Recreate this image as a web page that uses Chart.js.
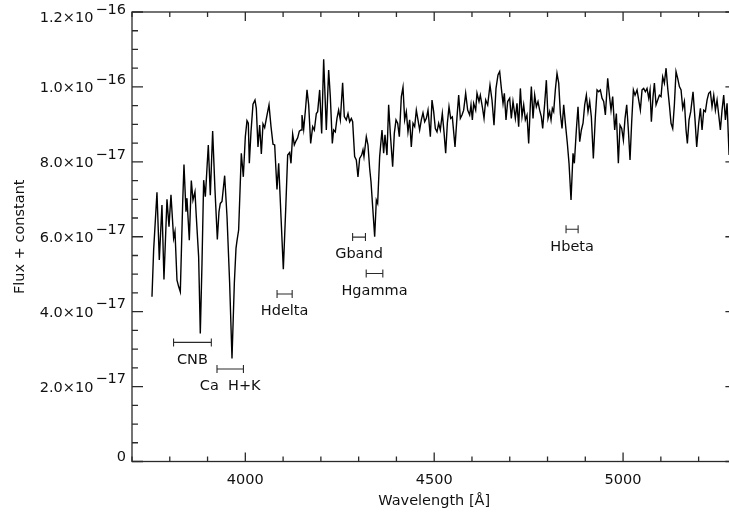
<!DOCTYPE html>
<html>
<head>
<meta charset="utf-8">
<script src="https://cdn.jsdelivr.net/npm/chart.js@4.4.1/dist/chart.umd.min.js"></script>
<style>
  html, body { margin: 0; padding: 0; overflow: hidden; background: #ffffff; width: 729px; height: 514px; }
  #wrap { position: relative; width: 729px; height: 514px; overflow: hidden; }
  #c { display: block; }
</style>
</head>
<body>
<div id="wrap"><canvas id="c" width="737" height="514" style="width:737px;height:514px"></canvas></div>
<script>
// ---- data (flux in units of 1e-18) ----
const wavelength = [
  3752.9, 3757.3, 3766.1, 3772.3, 3779.3, 3784.6, 3792.6, 3797.9, 3803.2, 3810.2,
  3813.8, 3819.1, 3823.5, 3827.9, 3834.1, 3837.6, 3842.9, 3845.5, 3851.7, 3857.0,
  3861.4, 3866.7, 3870.2, 3876.4, 3880.8, 3885.3, 3889.7, 3894.1, 3896.7, 3902.0,
  3907.3, 3913.5, 3919.7, 3925.9, 3930.3, 3933.8, 3938.2, 3945.3, 3951.5, 3958.5,
  3964.7, 3970.9, 3975.3, 3977.9, 3982.3, 3989.4, 3994.7, 4000.0, 4004.4, 4007.9,
  4010.6, 4015.0, 4020.3, 4025.6, 4029.1, 4033.5, 4038.0, 4042.4, 4046.8, 4051.2,
  4057.4, 4062.7, 4068.0, 4073.3, 4077.7, 4083.8, 4088.3, 4094.4, 4100.6, 4106.8,
  4112.1, 4117.4, 4120.9, 4125.3, 4129.7, 4134.2, 4138.6, 4143.0, 4147.4, 4150.0,
  4154.5, 4159.7, 4163.3, 4167.7, 4173.0, 4178.3, 4182.7, 4188.0, 4191.5, 4196.8,
  4202.1, 4207.4, 4214.4, 4220.6, 4225.0, 4230.3, 4233.8, 4238.2, 4242.6, 4247.0,
  4251.5, 4257.6, 4262.0, 4267.3, 4271.8, 4276.2, 4280.6, 4284.1, 4289.4, 4293.8,
  4298.2, 4302.6, 4307.9, 4311.5, 4314.1, 4320.3, 4324.7, 4329.1, 4332.7, 4337.1,
  4342.4, 4346.8, 4350.3, 4355.6, 4361.8, 4366.2, 4369.7, 4375.0, 4379.4, 4383.8,
  4390.0, 4394.4, 4398.9, 4403.3, 4407.7, 4413.0, 4417.4, 4421.8, 4426.2, 4430.6,
  4435.0, 4439.4, 4443.9, 4448.3, 4452.7, 4457.1, 4461.5, 4465.9, 4470.3, 4474.8,
  4479.2, 4483.6, 4489.8, 4494.2, 4498.6, 4503.0, 4507.4, 4511.8, 4516.2, 4521.5,
  4525.9, 4530.4, 4534.8, 4539.2, 4543.6, 4548.0, 4555.1, 4560.4, 4564.8, 4569.2,
  4573.6, 4578.0, 4583.3, 4588.6, 4593.9, 4597.4, 4601.0, 4604.5, 4609.8, 4613.3,
  4618.6, 4622.1, 4627.4, 4631.9, 4636.3, 4641.6, 4647.7, 4653.0, 4658.3, 4663.6,
  4668.9, 4673.3, 4677.8, 4682.2, 4685.7, 4690.1, 4694.5, 4699.8, 4704.2, 4708.6,
  4714.8, 4719.2, 4723.6, 4728.1, 4732.5, 4736.9, 4741.3, 4745.7, 4750.1, 4754.5,
  4757.2, 4761.6, 4766.0, 4770.4, 4774.8, 4779.2, 4783.7, 4787.2, 4792.5, 4796.9,
  4801.3, 4805.7, 4809.3, 4812.8, 4816.3, 4820.7, 4825.1, 4829.6, 4834.0, 4838.4,
  4842.8, 4848.1, 4852.5, 4856.9, 4862.2, 4867.5, 4871.0, 4876.3, 4880.7, 4885.2,
  4889.6, 4894.0, 4898.4, 4902.8, 4907.2, 4911.6, 4916.0, 4921.3, 4926.6, 4931.1,
  4935.5, 4939.9, 4944.3, 4948.7, 4953.1, 4959.3, 4963.7, 4968.1, 4972.5, 4977.8,
  4982.2, 4987.5, 4991.9, 4996.4, 5000.8, 5005.2, 5009.6, 5014.0, 5018.4, 5022.8,
  5027.3, 5031.7, 5037.0, 5041.4, 5045.8, 5050.2, 5054.6, 5059.0, 5063.4, 5067.9,
  5071.4, 5074.9, 5079.3, 5082.9, 5087.3, 5091.7, 5096.1, 5100.5, 5104.9, 5109.3,
  5113.8, 5118.2, 5122.6, 5127.0, 5131.4, 5135.8, 5140.2, 5144.6, 5149.1, 5153.5,
  5157.9, 5162.3, 5166.7, 5170.2, 5174.6, 5179.1, 5185.2, 5190.5, 5194.9, 5200.2,
  5204.7, 5209.1, 5213.5, 5217.9, 5222.3, 5226.7, 5231.1, 5235.5, 5240.0, 5244.4,
  5248.8, 5253.2, 5257.6, 5262.0, 5266.4, 5270.9, 5275.3, 5280.6
];
const flux = [
  44.0, 56.5, 71.9, 53.8, 68.5, 48.6, 70.0, 62.7, 71.2, 59.6,
  61.4, 48.4, 46.7, 45.3, 68.9, 79.3, 66.7, 70.3, 59.1, 75.0,
  69.8, 72.0, 65.4, 54.7, 34.2, 52.9, 75.1, 70.7, 75.1, 84.5,
  71.1, 88.2, 72.5, 59.3, 66.7, 68.9, 69.4, 76.3, 65.4, 47.6,
  27.5, 47.6, 56.9, 58.9, 61.8, 82.3, 76.0, 86.7, 91.0, 90.3,
  79.6, 88.0, 95.4, 96.5, 94.3, 84.0, 89.8, 82.1, 90.1, 89.1,
  92.5, 95.2, 89.4, 84.7, 84.5, 72.6, 79.6, 65.4, 51.3, 67.1,
  81.8, 82.5, 79.6, 87.4, 84.5, 85.6, 86.4, 88.2, 88.5, 92.5,
  88.7, 94.5, 99.2, 95.2, 84.9, 89.4, 88.5, 92.9, 93.4, 99.2,
  87.6, 107.4, 88.5, 104.5, 97.4, 84.9, 88.5, 88.0, 91.6, 93.8,
  91.2, 101.1, 92.1, 91.2, 92.9, 90.7, 91.6, 90.7, 81.4, 80.5,
  76.0, 80.9, 81.8, 83.2, 81.4, 86.7, 84.5, 78.3, 74.7, 68.0,
  60.0, 69.8, 68.9, 81.4, 88.5, 82.3, 87.2, 81.8, 95.2, 87.6,
  78.7, 87.6, 91.2, 90.3, 86.7, 97.4, 99.9, 91.2, 93.4, 88.0,
  91.2, 84.0, 90.3, 89.4, 93.8, 91.2, 88.5, 91.2, 93.1, 90.7,
  91.6, 93.8, 86.7, 96.5, 93.4, 88.9, 88.0, 90.3, 88.5, 92.9,
  88.0, 82.3, 90.3, 94.7, 91.6, 92.0, 84.0, 92.0, 97.8, 91.6,
  92.5, 93.8, 98.3, 93.8, 92.5, 95.2, 91.2, 95.6, 93.8, 98.3,
  96.1, 97.8, 94.7, 91.6, 96.5, 95.2, 100.5, 96.5, 89.8, 99.6,
  103.2, 104.1, 99.6, 95.6, 98.3, 91.2, 96.1, 97.0, 91.6, 96.1,
  91.6, 95.6, 89.4, 99.6, 92.1, 95.2, 91.2, 92.5, 84.9, 95.2,
  100.1, 91.6, 97.8, 94.7, 96.1, 93.8, 92.0, 88.9, 95.6, 101.8,
  91.6, 93.4, 91.2, 94.3, 93.4, 99.2, 103.6, 101.0, 92.9, 88.9,
  95.2, 89.4, 84.9, 79.6, 69.8, 82.3, 79.6, 88.5, 94.7, 85.4,
  88.5, 90.3, 95.2, 97.8, 93.4, 96.1, 92.0, 80.9, 92.0, 99.2,
  98.7, 99.2, 97.0, 96.1, 92.5, 102.3, 97.8, 93.8, 97.4, 88.5,
  92.9, 79.6, 89.8, 88.9, 85.8, 91.6, 95.2, 88.5, 80.5, 90.7,
  99.2, 97.8, 99.2, 96.5, 93.8, 99.2, 99.6, 98.7, 99.6, 97.0,
  99.2, 90.7, 97.4, 101.0, 95.2, 96.5, 97.8, 97.4, 102.7, 101.0,
  105.0, 99.6, 95.2, 90.3, 88.9, 95.2, 104.1, 102.3, 100.1, 99.2,
  94.3, 96.1, 88.5, 84.9, 91.2, 93.4, 98.7, 91.2, 84.0, 90.3,
  94.3, 88.5, 93.8, 93.4, 96.5, 98.3, 98.7, 94.7, 97.8, 93.8,
  96.5, 92.5, 88.5, 93.8, 97.8, 91.2, 95.6, 81.8
];

// axis ranges and ticks (y in units of 1e-18)
const xRange = [3700, 5300];
const xMajorTicks = [4000, 4500, 5000];
const xMinorStep = 100;
const yRange = [0, 120];
const yMajorTicks = [0, 20, 40, 60, 80, 100, 120];
const yMinorStep = 5;
const yTickMantissa = ['0', '2.0×10', '4.0×10', '6.0×10', '8.0×10', '1.0×10', '1.2×10'];
const yTickExponent = ['', '−17', '−17', '−17', '−17', '−16', '−16'];

// spectral feature markers (level in units of 1e-18)
const featureNames = ['CNB', 'Ca  H+K', 'Hdelta', 'Gband', 'Hgamma', 'Hbeta'];
const featureStart = [3810, 3925, 4084, 4284, 4320, 4849];
const featureEnd   = [3910, 3995, 4124, 4318, 4364, 4881];
const featureLevel = [31.8, 24.7, 44.7, 59.9, 50.2, 62.0];

// ---- styling ----
const FONT = 'DejaVu Sans';
const FS = 14.5;
const INK = '#111111';
const AXIS = '#2a2a2a';

const spectrum = wavelength.map((w, i) => ({ x: w, y: flux[i] }));
const featureSets = featureNames.map((n, i) => ({
  label: n,
  data: [{ x: featureStart[i], y: featureLevel[i] }, { x: featureEnd[i], y: featureLevel[i] }],
  borderColor: AXIS,
  borderWidth: 1.1,
  pointStyle: 'line',
  pointRotation: 90,
  pointRadius: 4,
  pointBorderWidth: 1.1,
  pointBorderColor: AXIS,
  showLine: true,
  fill: false
}));

const framePlugin = {
  id: 'frame',
  afterDraw(chart) {
    const { ctx, chartArea: a, scales: { x, y } } = chart;
    ctx.save();
    ctx.strokeStyle = AXIS;
    ctx.lineWidth = 1.3;
    ctx.strokeRect(a.left, a.top, a.right - a.left, a.bottom - a.top);
    ctx.beginPath();
    for (let v = xRange[0]; v <= xRange[1]; v += xMinorStep) {
      const px = x.getPixelForValue(v);
      const len = xMajorTicks.includes(v) ? 9 : 5;
      ctx.moveTo(px, a.bottom); ctx.lineTo(px, a.bottom - len);
      ctx.moveTo(px, a.top); ctx.lineTo(px, a.top + len);
    }
    for (let v = yRange[0]; v <= yRange[1]; v += yMinorStep) {
      const py = y.getPixelForValue(v);
      const len = yMajorTicks.includes(v) ? 11 : 6;
      ctx.moveTo(a.left, py); ctx.lineTo(a.left + len, py);
      ctx.moveTo(a.right, py); ctx.lineTo(a.right - len, py);
    }
    ctx.stroke();

    // y tick labels with superscript exponents
    ctx.fillStyle = INK;
    ctx.font = FS + 'px "' + FONT + '"';
    ctx.textBaseline = 'middle';
    yMajorTicks.forEach((v, i) => {
      const py = y.getPixelForValue(v);
      const exp = yTickExponent[i];
      if (!exp) {
        ctx.textAlign = 'right';
        ctx.fillText(yTickMantissa[i], a.left - 6, py - 4);
        return;
      }
      let mainY = py + 1.5, expY = py - 7;
      const shift = Math.max(0, 10 - expY);
      mainY += shift; expY += shift;
      ctx.textAlign = 'right';
      ctx.fillText(exp, a.left - 6, expY);
      const ew = ctx.measureText(exp).width;
      ctx.fillText(yTickMantissa[i], a.left - 6 - ew - 2, mainY);
    });

    // feature labels
    ctx.textAlign = 'center';
    featureNames.forEach((n, i) => {
      const cx = (x.getPixelForValue(featureStart[i]) + x.getPixelForValue(featureEnd[i])) / 2;
      const cy = y.getPixelForValue(featureLevel[i]) + 17.5;
      ctx.fillText(n, cx, cy);
    });
    ctx.restore();
  }
};

new Chart(document.getElementById('c'), {
  type: 'scatter',
  data: {
    datasets: [{
      label: 'spectrum',
      data: spectrum,
      showLine: true,
      borderColor: '#000000',
      borderWidth: 1.4,
      pointRadius: 0,
      tension: 0,
      fill: false
    }, ...featureSets]
  },
  options: {
    responsive: false,
    maintainAspectRatio: false,
    devicePixelRatio: 1,
    animation: false,
    layout: { autoPadding: false, padding: { top: 12, right: 0.6, left: 0, bottom: 0 } },
    plugins: { legend: { display: false }, tooltip: { enabled: false } },
    scales: {
      x: {
        type: 'linear',
        min: xRange[0], max: xRange[1],
        grid: { display: false, drawTicks: false },
        border: { display: false },
        afterBuildTicks: (s) => { s.ticks = xMajorTicks.map(v => ({ value: v })); },
        afterFit: (s) => { s.height = 52.5; },
        ticks: { font: { family: FONT, size: FS }, color: INK, padding: 10, maxRotation: 0, autoSkip: false,
                 callback: (v) => String(v) },
        title: { display: true, text: 'Wavelength [Å]', font: { family: FONT, size: FS }, color: INK, padding: { top: 0, bottom: 4 } }
      },
      y: {
        type: 'linear',
        min: yRange[0], max: yRange[1],
        grid: { display: false, drawTicks: false },
        border: { display: false },
        ticks: { display: false },
        afterFit: (s) => { s.width = 132; },
        title: { display: true, text: 'Flux + constant', font: { family: FONT, size: FS }, color: INK, padding: { top: 11.6, bottom: 0 } }
      }
    }
  },
  plugins: [framePlugin]
});
</script>
</body>
</html>
